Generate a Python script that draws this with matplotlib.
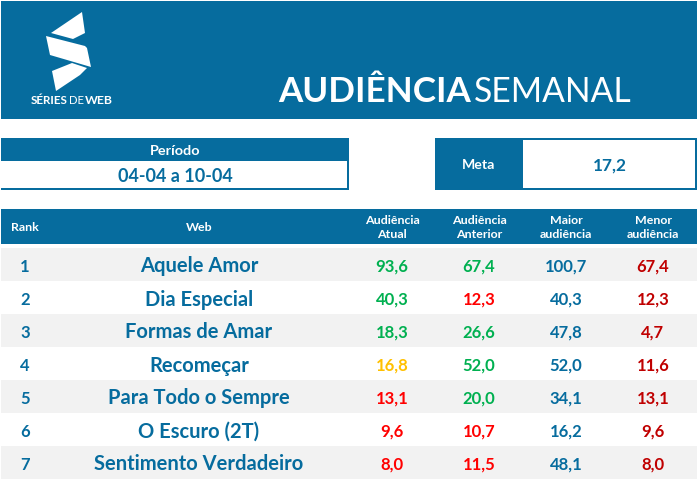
import matplotlib
matplotlib.use("Agg")
import matplotlib.pyplot as plt
from matplotlib.patches import Rectangle, Polygon

BLUE = "#066C9E"
GREEN = "#00B050"
RED = "#FF0000"
DARK = "#C00000"
YELL = "#FFC000"
GREY = "#F2F2F2"

ranks = ["1", "2", "3", "4", "5", "6", "7"]
webs = ["Aquele Amor", "Dia Especial", "Formas de Amar", "Recomeçar",
        "Para Todo o Sempre", "O Escuro (2T)", "Sentimento Verdadeiro"]
atual = ["93,6", "40,3", "18,3", "16,8", "13,1", "9,6", "8,0"]
anterior = ["67,4", "12,3", "26,6", "52,0", "20,0", "10,7", "11,5"]
maior = ["100,7", "40,3", "47,8", "52,0", "34,1", "16,2", "48,1"]
menor = ["67,4", "12,3", "4,7", "11,6", "13,1", "9,6", "8,0"]
atual_colors = [GREEN, GREEN, GREEN, YELL, RED, RED, RED]
anterior_colors = [GREEN, RED, GREEN, GREEN, GREEN, RED, RED]
headers = ["Rank", "Web", "Audiência\nAtual", "Audiência\nAnterior", "Maior\naudiência", "Menor\naudiência"]
periodo_label = "Período"
periodo = "04-04 a 10-04"
meta_label = "Meta"
meta = "17,2"

plt.rcParams["font.family"] = ["Lato", "DejaVu Sans"]
fig = plt.figure(figsize=(6.97, 4.80), dpi=100, facecolor="white")
ax = fig.add_axes([0, 0, 1, 1])
ax.set_xlim(0, 697)
ax.set_ylim(480, 0)
ax.axis("off")

def box(x0, y0, x1, y1, fc):
    ax.add_patch(Rectangle((x0, y0), x1 - x0, y1 - y0, fc=fc, ec="none", lw=0))

def txt(x, y, s, color, size, weight="bold", ha="center", va="center", **kw):
    return ax.text(x, y, s, color=color, fontsize=size, fontweight=weight, ha=ha, va=va, **kw)

# Banner
box(1, 1, 697, 119, BLUE)
for pts in ([(51, 33), (82, 12), (85, 33), (73, 39)],
            [(46, 36), (85, 46), (87, 48), (91, 67), (50, 55)],
            [(52, 71), (72, 63), (87, 68), (80, 75), (56, 91)]):
    ax.add_patch(Polygon(pts, closed=True, fc="white", ec="none"))
txt(31, 101, "SÉRIES", "white", 8.4, ha="left")
txt(69.5, 101, "DE", "white", 8.2, weight="regular", ha="left")
txt(84.5, 101, "WEB", "white", 8.8, ha="left")
txt(278, 92, "AUDIÊNCIA", "white", 25.2, ha="left")
txt(474, 92, "SEMANAL", "white", 24.2, weight="regular", ha="left")

# Period box
box(1, 138, 349, 190, BLUE)
box(1, 161, 347, 188, "white")
txt(175, 151, periodo_label, "white", 10.4)
txt(175, 176, periodo, BLUE, 13)

# Meta box
box(435, 138, 697, 190, BLUE)
box(523, 140, 695, 188, "white")
txt(479, 165, meta_label, "white", 10.2)
txt(610, 166, meta, BLUE, 12.4)

# Table header
col_x = [25, 199, 392, 479, 566, 653]
box(1, 209, 697, 244, BLUE)
for i, (x, h) in enumerate(zip(col_x, headers)):
    txt(x, 227.5, h, "white", 8.9, linespacing=1.4)

# Rows
row_h = 33
top = 248
for i in range(len(ranks)):
    y0 = top + i * row_h
    if i % 2 == 0:
        box(1, y0, 697, y0 + row_h, GREY)
    yc = y0 + 18
    txt(col_x[0], yc + 1, ranks[i], BLUE, 12)
    txt(col_x[1], yc + 0.5, webs[i], BLUE, 14.5)
    txt(col_x[2], yc + 1, atual[i], atual_colors[i], 12)
    txt(col_x[3], yc + 1, anterior[i], anterior_colors[i], 12)
    txt(col_x[4], yc + 1, maior[i], BLUE, 12)
    txt(col_x[5], yc + 1, menor[i], DARK, 12)

fig.savefig("out.png", dpi=100, facecolor="white")
